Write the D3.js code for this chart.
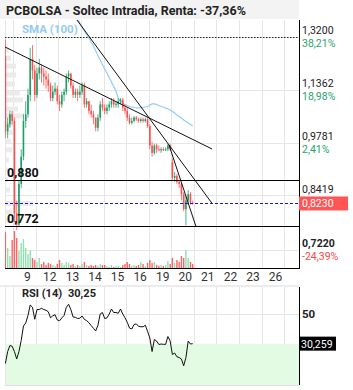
<!DOCTYPE html>
<html>
<head>
<meta charset="utf-8">
<script src="https://cdn.jsdelivr.net/npm/d3@7"></script>
<style>
body { margin: 0; background: #fff; }
svg { display: block; font-family: Roboto, "Noto Sans", sans-serif; }
</style>
</head>
<body>
<div id="chart"></div>
<script>
// hourly candles, 10 slots per session, first bar is slot 6 of day "8"
var dayLabels = ["8", "9", "12", "13", "14", "15", "16", "19", "20", "21", "22", "23", "26"];
var slotsPerDay = 10, firstSlot = 6;

var opens = [1.25, 1.01, 1.03, 1.06,
  1.04, 0.80, 0.775, 0.87, 0.94, 1.04, 1.06, 1.12, 1.24, 1.20,
  1.12, 1.19, 1.21, 1.19, 1.18, 1.17, 1.15, 1.11, 1.13, 1.14,
  1.10, 1.09, 1.12, 1.13, 1.18, 1.19, 1.15, 1.12, 1.13, 1.12,
  1.13, 1.15, 1.09, 1.10, 1.07, 1.06, 1.05, 1.02, 1.05, 1.09,
  1.08, 1.07, 1.08, 1.09, 1.10, 1.09, 1.09, 1.10, 1.105, 1.08,
  1.07, 1.05, 1.035, 1.04, 1.05, 1.045, 1.04, 1.045, 1.04, 1.045,
  1.025, 0.97, 0.95, 0.97, 0.96, 0.958, 0.96, 0.958, 0.96, 0.97,
  0.925, 0.885, 0.89, 0.875, 0.87, 0.845, 0.81, 0.83, 0.845, 0.825];
var highs = [1.31, 1.05, 1.07, 1.07,
  1.05, 0.83, 0.88, 0.96, 1.06, 1.10, 1.14, 1.28, 1.29, 1.22,
  1.21, 1.24, 1.22, 1.21, 1.20, 1.19, 1.16, 1.15, 1.16, 1.15,
  1.12, 1.13, 1.14, 1.19, 1.20, 1.19, 1.16, 1.14, 1.14, 1.15,
  1.16, 1.16, 1.11, 1.10, 1.09, 1.07, 1.05, 1.06, 1.10, 1.11,
  1.09, 1.09, 1.10, 1.11, 1.11, 1.10, 1.11, 1.11, 1.11, 1.09,
  1.08, 1.06, 1.05, 1.055, 1.055, 1.05, 1.05, 1.05, 1.05, 1.05,
  1.03, 0.98, 0.975, 0.975, 0.97, 0.965, 0.965, 0.965, 0.975, 0.975,
  0.935, 0.90, 0.895, 0.88, 0.872, 0.85, 0.84, 0.855, 0.85, 0.83];
var lows = [0.99, 0.99, 1.02, 1.03,
  0.78, 0.763, 0.77, 0.86, 0.93, 1.02, 1.05, 1.10, 1.17, 1.10,
  1.11, 1.17, 1.16, 1.15, 1.14, 1.13, 1.10, 1.10, 1.12, 1.09,
  1.07, 1.08, 1.10, 1.12, 1.16, 1.14, 1.11, 1.11, 1.10, 1.11,
  1.12, 1.08, 1.08, 1.06, 1.05, 1.03, 1.01, 1.01, 1.04, 1.07,
  1.06, 1.06, 1.07, 1.08, 1.08, 1.08, 1.08, 1.09, 1.07, 1.06,
  1.04, 1.03, 1.03, 1.035, 1.04, 1.035, 1.035, 1.035, 1.035, 1.02,
  0.96, 0.94, 0.945, 0.95, 0.955, 0.95, 0.955, 0.955, 0.955, 0.955,
  0.88, 0.875, 0.87, 0.86, 0.83, 0.805, 0.774, 0.82, 0.82, 0.82];
var closes = [1.01, 1.03, 1.06, 1.04,
  0.80, 0.775, 0.87, 0.94, 1.04, 1.06, 1.12, 1.24, 1.20, 1.12,
  1.19, 1.21, 1.19, 1.18, 1.17, 1.15, 1.11, 1.13, 1.14, 1.10,
  1.09, 1.12, 1.13, 1.18, 1.19, 1.15, 1.12, 1.13, 1.12, 1.13,
  1.15, 1.09, 1.10, 1.07, 1.06, 1.05, 1.02, 1.05, 1.09, 1.08,
  1.07, 1.08, 1.09, 1.10, 1.09, 1.092, 1.10, 1.105, 1.08, 1.07,
  1.05, 1.035, 1.04, 1.05, 1.045, 1.04, 1.045, 1.04, 1.045, 1.025,
  0.97, 0.95, 0.97, 0.96, 0.958, 0.96, 0.958, 0.96, 0.97, 0.96,
  0.885, 0.89, 0.875, 0.87, 0.845, 0.81, 0.83, 0.845, 0.825, 0.823];
var volumes = [360, 200, 120, 280,
  370, 300, 170, 250, 290, 200, 140, 180, 100, 80,
  60, 100, 40, 60, 30, 50, 40, 30, 20, 40,
  80, 50, 30, 60, 50, 30, 40, 20, 30, 20,
  40, 60, 30, 20, 30, 20, 30, 20, 40, 30,
  30, 20, 10, 30, 10, 20, 20, 10, 30, 40,
  60, 40, 20, 30, 20, 30, 60, 40, 20, 50,
  80, 50, 60, 30, 20, 30, 20, 30, 70, 40,
  100, 50, 80, 60, 120, 100, 180, 100, 60, 40];
var rsiValues = [17, 25, 29, 28.5,
  25, 20, 25, 32.3, 42, 44, 49, 56, 54.5, 46.5,
  53, 53, 53.8, 53, 52.5, 51.5, 47.5, 48.8, 49.5, 46,
  45.5, 47.4, 49, 54.5, 56.5, 53, 48, 47.8, 47, 47.2,
  48.7, 46.4, 45.6, 44.2, 42.3, 40.5, 38.7, 42.5, 50, 51,
  47, 47.4, 50, 53.3, 51, 51, 50.5, 53.3, 50, 47.5,
  44.5, 40.6, 40, 43, 43.4, 41.8, 41.5, 41.5, 42.5, 38.5,
  34, 25, 33, 32, 29.7, 30, 29.8, 29.8, 35, 32,
  23, 24, 21.5, 21, 20, 15.5, 21, 32, 30, 30.259];
var smaValues = [null, null, null, null,
  null, null, null, null, null, null, null, null, null, null,
  null, null, null, null, null, null, null, null, null, null,
  null, null, null, null, null, null, null, 1.409, 1.389, 1.373,
  1.358, 1.343, 1.329, 1.316, 1.301, 1.287, 1.269, 1.252, 1.2365, 1.221,
  1.205, 1.1917, 1.1767, 1.1617, 1.147, 1.1324, 1.1101, 1.0991, 1.0945, 1.0898,
  1.0868, 1.0837, 1.0821, 1.0806, 1.0791, 1.0791, 1.0791, 1.0806, 1.0821, 1.0837,
  1.0883, 1.0914, 1.0914, 1.0898, 1.0868, 1.0837, 1.0821, 1.0791, 1.0761, 1.0729,
  1.0684, 1.0639, 1.0579, 1.0534, 1.0489, 1.043, 1.0385, 1.0341, 1.0297, 1.0253];

// volume at price (left histogram)
var profilePrices = [1.272, 1.243, 1.215, 1.185, 1.155, 1.126, 1.104, 1.076, 1.055, 1.030,
  1.007, 0.982, 0.958, 0.931, 0.905, 0.880, 0.855, 0.823, 0.803, 0.785];
var profileVolumes = [3, 5, 10, 10, 9, 14, 17, 12, 18, 8, 7, 5, 6, 3, 2, 2, 4, 27, 6, 4];

var priceTicks = [1.3200, 1.1362, 0.9781, 0.8419, 0.7220];
var pctLabels = ["38,21%", "18,98%", "2,41%", "-11,85%", "-24,39%"];
var levelPrices = [0.880, 0.772];
var levelLabels = ["0,880", "0,772"];
var lastPrice = 0.8230, maxPrice = 1.3200;
var lastRsi = 30.259;
// trend lines: [day position, price] pairs
var trendLines = [
  [[0.632, 1.283], [9.81, 0.9605]],
  [[3.82, 1.385], [9.81, 0.823]],
  [[7.90, 0.9715], [9.10, 0.770]]
];

var width = 353, height = 390;
var left = 5, right = 299, mainTop = 20, mainBottom = 268, rsiTop = 287, rsiBottom = 385;

var svg = d3.select("#chart").append("svg")
  .attr("width", width)
  .attr("height", height);

var x = d3.scaleLinear().domain([0.632, 13.66]).range([left, right]);
var y = d3.scaleLog().domain([0.6853, 1.385]).range([mainBottom, mainTop]);
var yVol = d3.scaleLinear().domain([0, 420]).range([mainBottom, mainBottom - 42]);
var yRsi = d3.scaleLinear().domain([2.7, 68]).range([rsiBottom, rsiTop]);
var wProfile = d3.scaleLinear().domain([0, 27]).range([0, 27]);

var bars = opens.map(function (o, i) {
  return {
    t: (firstSlot + i + 0.5) / slotsPerDay,
    o: o, h: highs[i], l: lows[i], c: closes[i],
    v: volumes[i], rsi: rsiValues[i], sma: smaValues[i]
  };
});

var fmt = function (v, n) { return v.toFixed(n).replace(".", ","); };

// header
svg.append("rect").attr("x", 0).attr("y", 0).attr("width", right).attr("height", 19).attr("fill", "#f3f3f3");
svg.append("text").attr("x", 6).attr("y", 15)
  .style("font-size", "12.5px").style("font-weight", "bold").attr("fill", "#222")
  .text("PCBOLSA - Soltec Intradia, Renta: -37,36%");

svg.append("defs").append("clipPath").attr("id", "clipMain")
  .append("rect").attr("x", left).attr("y", mainTop).attr("width", right - left).attr("height", mainBottom - mainTop);

var dayIdx = d3.range(1, dayLabels.length + 1);

// grid
var grid = svg.append("g").attr("stroke", "#e6e6e6").attr("stroke-width", 1);
grid.selectAll(".vg").data(dayIdx).enter().append("line")
  .attr("x1", function (d) { return Math.round(x(d)) + 0.5; })
  .attr("x2", function (d) { return Math.round(x(d)) + 0.5; })
  .attr("y1", mainTop).attr("y2", mainBottom);
grid.selectAll(".vr").data(dayIdx).enter().append("line")
  .attr("x1", function (d) { return Math.round(x(d)) + 0.5; })
  .attr("x2", function (d) { return Math.round(x(d)) + 0.5; })
  .attr("y1", rsiTop).attr("y2", rsiBottom);
grid.selectAll(".hg").data(priceTicks).enter().append("line")
  .attr("x1", left).attr("x2", right)
  .attr("y1", function (d) { return Math.round(y(d)) + 0.5; })
  .attr("y2", function (d) { return Math.round(y(d)) + 0.5; });
grid.append("line").attr("x1", left + 0.5).attr("x2", left + 0.5).attr("y1", mainTop).attr("y2", mainBottom);
grid.append("line").attr("x1", left + 0.5).attr("x2", left + 0.5).attr("y1", rsiTop).attr("y2", rsiBottom);
svg.append("rect").attr("x", 0).attr("y", 285).attr("width", right).attr("height", 2).attr("fill", "#ececec");

var main = svg.append("g").attr("clip-path", "url(#clipMain)");

// volume profile
main.selectAll(".prof").data(profilePrices).enter().append("rect")
  .attr("x", left + 1)
  .attr("y", function (d) { return y(d) - 2.5; })
  .attr("width", function (d, i) { return wProfile(profileVolumes[i]); })
  .attr("height", 5)
  .attr("fill", "#ebebeb");

// volume bars
main.selectAll(".vol").data(bars).enter().append("rect")
  .attr("x", function (d) { return x(d.t) - 0.7; })
  .attr("y", function (d) { return yVol(d.v); })
  .attr("width", 1.4)
  .attr("height", function (d) { return mainBottom - yVol(d.v); })
  .attr("fill", function (d) { return d.c >= d.o ? "#8fe0b2" : "#ff6464"; });

// SMA
main.append("path")
  .datum(bars.filter(function (d) { return d.sma != null; }))
  .attr("fill", "none").attr("stroke", "#94cbf5").attr("stroke-width", 1.2)
  .attr("d", d3.line().x(function (d) { return x(d.t); }).y(function (d) { return y(d.sma); }));

// candles
var cg = main.selectAll(".candle").data(bars).enter().append("g");
cg.append("line")
  .attr("x1", function (d) { return x(d.t); })
  .attr("x2", function (d) { return x(d.t); })
  .attr("y1", function (d) { return y(d.h); })
  .attr("y2", function (d) { return y(d.l); })
  .attr("stroke", function (d) { return d.c >= d.o ? "#1f9d66" : "#ff4d4d"; })
  .attr("stroke-width", 0.8);
cg.append("rect")
  .attr("x", function (d) { return x(d.t) - 0.8; })
  .attr("y", function (d) { return y(Math.max(d.o, d.c)); })
  .attr("width", 1.6)
  .attr("height", function (d) { return Math.max(1, Math.abs(y(d.o) - y(d.c))); })
  .attr("fill", function (d) { return d.c >= d.o ? "#1f9d66" : "#ff4d4d"; });

// trend lines
main.selectAll(".trend").data(trendLines).enter().append("line")
  .attr("x1", function (d) { return x(d[0][0]); })
  .attr("y1", function (d) { return y(d[0][1]); })
  .attr("x2", function (d) { return x(d[1][0]); })
  .attr("y2", function (d) { return y(d[1][1]); })
  .attr("stroke", "#111").attr("stroke-width", 1);

// horizontal levels
main.selectAll(".lvl").data(levelPrices).enter().append("line")
  .attr("x1", left).attr("x2", right)
  .attr("y1", function (d) { return Math.round(y(d)) + 0.5; })
  .attr("y2", function (d) { return Math.round(y(d)) + 0.5; })
  .attr("stroke", "#000").attr("stroke-width", 1.2);
svg.selectAll(".lvlText").data(levelPrices).enter().append("text")
  .attr("x", 7).attr("y", function (d) { return y(d) - 3; })
  .style("font-size", "12.5px").style("font-weight", "bold").attr("fill", "#111")
  .text(function (d, i) { return levelLabels[i]; });

main.append("line")
  .attr("x1", left).attr("x2", right)
  .attr("y1", Math.round(y(maxPrice)) + 0.5).attr("y2", Math.round(y(maxPrice)) + 0.5)
  .attr("stroke", "#222").attr("stroke-dasharray", "1.5,1.5");
main.append("line")
  .attr("x1", left).attr("x2", right)
  .attr("y1", Math.round(y(lastPrice)) + 0.5).attr("y2", Math.round(y(lastPrice)) + 0.5)
  .attr("stroke", "#1a1acc").attr("stroke-dasharray", "3,2");

svg.append("text").attr("x", 22).attr("y", 33)
  .style("font-size", "11.5px").style("font-weight", "bold").attr("fill", "#94cbf5")
  .text("SMA (100)");

// frame
svg.append("line").attr("x1", right + 0.5).attr("x2", right + 0.5).attr("y1", mainTop).attr("y2", mainBottom + 1)
  .attr("stroke", "#000");
svg.append("line").attr("x1", left).attr("x2", right + 1).attr("y1", mainBottom + 0.5).attr("y2", mainBottom + 0.5)
  .attr("stroke", "#000");

// right axis: price above the grid line, change below it
var yl = y(lastPrice);
var ra = svg.append("g");
ra.selectAll(".pl").data(priceTicks).enter().append("text")
  .attr("x", 302).attr("y", function (d) { return y(d) - 2.5; })
  .style("font-size", "10.5px")
  .style("font-weight", function (d, i) { return i == priceTicks.length - 1 ? "bold" : "normal"; })
  .attr("fill", "#222")
  .text(function (d) { return fmt(d, 4); });
ra.selectAll(".pp").data(priceTicks.filter(function (d) { return Math.abs(y(d) + 6 - yl) > 12; })).enter().append("text")
  .attr("x", 302).attr("y", function (d) { return y(d) + 10.5; })
  .style("font-size", "10.5px")
  .attr("fill", function (d) { return pctLabels[priceTicks.indexOf(d)].charAt(0) == "-" ? "#ff4646" : "#2aa36b"; })
  .text(function (d) { return pctLabels[priceTicks.indexOf(d)]; });
ra.append("rect").attr("x", 299).attr("y", yl - 7).attr("width", 49).attr("height", 14).attr("fill", "#ff5555");
ra.append("text").attr("x", 302).attr("y", yl + 4)
  .style("font-size", "10.5px").attr("fill", "#fff").text(fmt(lastPrice, 4));

// x axis labels (the partial first session has no label)
svg.selectAll(".xl").data(dayLabels.slice(1)).enter().append("text")
  .attr("x", function (d, i) { return x(i + 1.62); })
  .attr("y", 281)
  .attr("text-anchor", "middle")
  .style("font-size", "12px").attr("fill", "#333")
  .text(function (d) { return d; });

// RSI panel
svg.append("rect").attr("x", left + 1).attr("y", yRsi(30)).attr("width", right - left - 1)
  .attr("height", rsiBottom - yRsi(30)).attr("fill", "#e2fbe2");
svg.append("line").attr("x1", left).attr("x2", right)
  .attr("y1", Math.round(yRsi(50)) + 0.5).attr("y2", Math.round(yRsi(50)) + 0.5)
  .attr("stroke", "#e6e6e6");
svg.append("line").attr("x1", left).attr("x2", right)
  .attr("y1", rsiBottom + 0.5).attr("y2", rsiBottom + 0.5).attr("stroke", "#e0e0e0");
svg.append("path").datum(bars)
  .attr("fill", "none").attr("stroke", "#111").attr("stroke-width", 1)
  .attr("d", d3.line().x(function (d) { return x(d.t); }).y(function (d) { return yRsi(d.rsi); }));
svg.append("line").attr("x1", right + 0.5).attr("x2", right + 0.5).attr("y1", rsiTop).attr("y2", rsiBottom)
  .attr("stroke", "#000");
svg.append("text").attr("x", 22).attr("y", 297)
  .style("font-size", "11px").style("font-weight", "bold").attr("fill", "#222")
  .text("RSI (14)");
svg.append("text").attr("x", 68).attr("y", 297)
  .style("font-size", "11px").style("font-weight", "bold").attr("fill", "#222")
  .text(fmt(Math.floor(lastRsi * 100) / 100, 2));
svg.append("text").attr("x", 302).attr("y", yRsi(50) + 4)
  .style("font-size", "11.5px").style("font-weight", "bold").attr("fill", "#222")
  .text("50");
var yr = yRsi(lastRsi);
svg.append("rect").attr("x", 299).attr("y", yr - 7).attr("width", 37).attr("height", 14).attr("fill", "#000");
svg.append("text").attr("x", 301).attr("y", yr + 4)
  .style("font-size", "10.5px").attr("fill", "#fff").text(fmt(lastRsi, 3));
</script>
</body>
</html>
